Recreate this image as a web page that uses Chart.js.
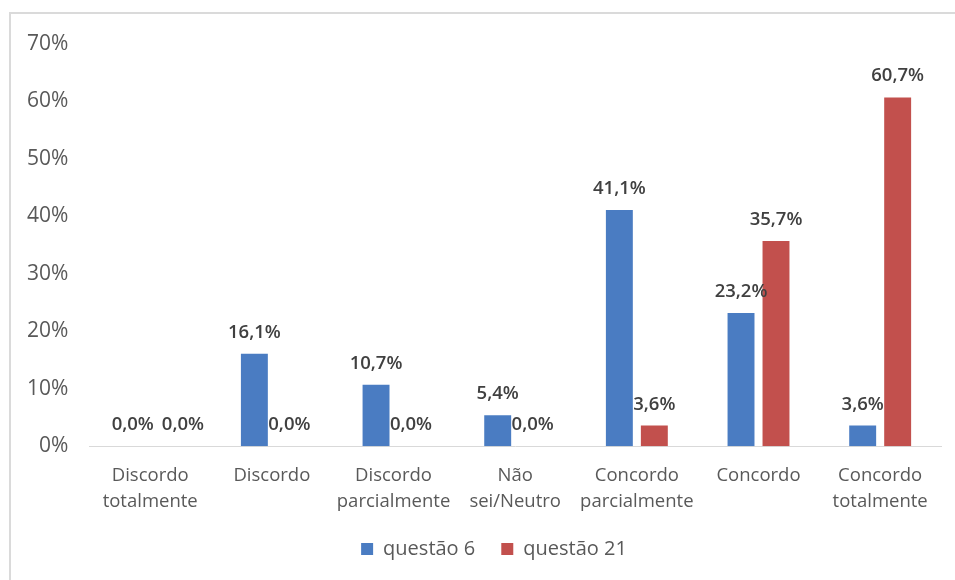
<!doctype html>
<html lang="pt">
<head>
  <meta charset="utf-8">
  <title>questões</title>
  <style>
    html, body { margin: 0; padding: 0; background: #fff; }
    #box {
      position: absolute;
      left: 9px; top: 12px;
      width: 946px; height: 568px;
      border-top: 2px solid #dadada;
      border-left: 2px solid #dadada;
    }
    #chart { display: block; }
  </style>
</head>
<body>
  <div id="box"><canvas id="chart" width="946" height="568"></canvas></div>

  <script src="https://cdn.jsdelivr.net/npm/chart.js@4/dist/chart.umd.min.js"></script>
  <script>
  // respostas (em %)
  const categorias = [
    ['Discordo', 'totalmente'],
    'Discordo',
    ['Discordo', 'parcialmente'],
    ['Não', 'sei/Neutro'],
    ['Concordo', 'parcialmente'],
    'Concordo',
    ['Concordo', 'totalmente']
  ];
  const questao6  = [0.0, 16.1, 10.7, 5.4, 41.1, 23.2, 3.6];
  const questao21 = [0.0, 0.0, 0.0, 0.0, 3.6, 35.7, 60.7];
  const yTicks = [0, 10, 20, 30, 40, 50, 60, 70];

  const fonte = "'Open Sans', sans-serif";

  // rótulos em cima das barras (empurra pro lado quando dois se sobrepõem)
  const rotulos = {
    id: 'rotulos',
    afterLayout(chart) {
      // legenda um pouco à direita, como no original
      chart.legend.left += 18;
      chart.legend.right += 18;
    },
    afterDatasetsDraw(chart) {
      let ctx = chart.ctx;
      ctx.save();
      ctx.font = "600 18.5px " + fonte;
      ctx.fillStyle = '#404040';
      ctx.textAlign = 'center';
      ctx.textBaseline = 'alphabetic';
      let n = chart.data.labels.length;
      for (let j = 0; j < n; j++) {
        let prev = null;
        chart.data.datasets.forEach((ds, i) => {
          let bar = chart.getDatasetMeta(i).data[j];
          let txt = ds.data[j].toFixed(1).replace('.', ',') + '%';
          let w = ctx.measureText(txt).width;
          let x = bar.x, y = bar.y - 16;
          if (prev && Math.abs(prev.y - y) < 18 && x - w / 2 < prev.right + 8) {
            x = prev.right + 8 + w / 2;
          }
          ctx.fillText(txt, x, y);
          prev = { y: y, right: x + w / 2 };
        });
      }
      ctx.restore();
    }
  };

  new Chart(document.getElementById('chart'), {
    type: 'bar',
    data: {
      labels: categorias,
      datasets: [
        {
          label: 'questão 6',
          data: questao6,
          backgroundColor: '#4a7cc2',
          categoryPercentage: 0.575,
          barPercentage: 0.77,
        },
        {
          label: 'questão 21',
          data: questao21,
          backgroundColor: '#c2504d',
          categoryPercentage: 0.575,
          barPercentage: 0.77,
        },
      ],
    },
    options: {
      responsive: false,
      animation: false,
      layout: { padding: { left: 0, right: 16, top: 16, bottom: 13 } },
      plugins: {
        legend: {
          position: 'bottom',
          labels: {
            boxWidth: 12,
            boxHeight: 12,
            padding: 26,
            color: '#595959',
            font: { family: fonte, size: 20 },
          },
        },
        tooltip: { enabled: false },
      },
      scales: {
        x: {
          grid: { display: false, drawTicks: false },
          border: { display: true, color: '#d9d9d9', width: 1 },
          afterFit: axis => { axis.height -= 19; },
          ticks: {
            color: '#595959',
            padding: 17,
            maxRotation: 0,
            autoSkip: false,
            font: { family: fonte, size: 18.5, lineHeight: 1.4 },
          },
        },
        y: {
          min: 0,
          max: 70,
          afterBuildTicks: axis => { axis.ticks = yTicks.map(v => ({ value: v })); },
          afterFit: axis => { axis.width -= 5; axis.paddingTop = 30; },
          grid: { display: false, drawTicks: false },
          border: { display: false },
          ticks: {
            color: '#595959',
            padding: 21,
            font: { family: fonte, size: 21 },
            callback: v => v + '%',
          },
        },
      },
    },
    plugins: [rotulos],
  });
  </script>
</body>
</html>
